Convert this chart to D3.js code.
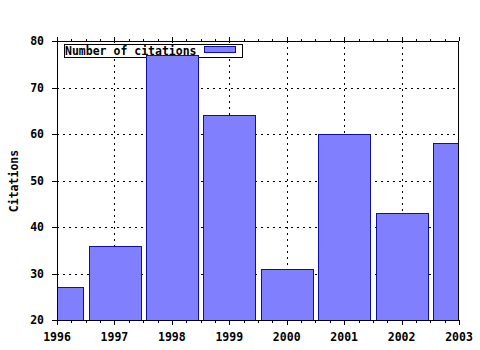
<!DOCTYPE html>
<html>
<head>
<meta charset="utf-8">
<script src="https://cdn.jsdelivr.net/npm/d3@7"></script>
<style>
html,body{margin:0;padding:0;background:#fff;}
svg text{font-family:"DejaVu Sans Mono",monospace;font-weight:bold;font-size:11.5px;fill:#000;}
</style>
</head>
<body>
<script>
const years = [1996, 1997, 1998, 1999, 2000, 2001, 2002, 2003];
const citations = [27, 36, 77, 64, 31, 60, 43, 58];
const yTicks = [20, 30, 40, 50, 60, 70, 80];
const xTicks = [1996, 1997, 1998, 1999, 2000, 2001, 2002, 2003];
const seriesName = "Number of citations";
const yTitle = "Citations";

const W = 480, H = 350;
const L = 57, R = 459, T = 41, B = 320;
const svg = d3.select("body").append("svg").attr("width", W).attr("height", H);

const x = d3.scaleLinear().domain([1996, 2003]).range([L, R]);
const y = d3.scaleLinear().domain([20, 80]).range([B, T]);
const minor = d3.range(1996, 2003.001, 0.25).filter(v => Math.abs(v - Math.round(v)) > 1e-6);

svg.append("defs").append("clipPath").attr("id", "clip")
  .append("rect").attr("x", L).attr("y", T).attr("width", R - L).attr("height", B - T);

// grid
const grid = svg.append("g").attr("stroke", "#000").attr("stroke-width", 1).attr("stroke-dasharray", "2,4");
yTicks.filter(v => v > 20 && v < 80).forEach(v => {
  grid.append("line").attr("x1", L).attr("x2", R).attr("y1", Math.round(y(v)) + 0.5).attr("y2", Math.round(y(v)) + 0.5);
});
xTicks.filter(v => v > 1996 && v < 2003).forEach(v => {
  grid.append("line").attr("y1", T).attr("y2", B).attr("x1", Math.round(x(v)) + 0.5).attr("x2", Math.round(x(v)) + 0.5);
});

// legend box background
const lg = {x: 64.5, y: 44.5, w: 178, h: 13};
svg.append("rect").attr("x", lg.x).attr("y", lg.y).attr("width", lg.w).attr("height", lg.h)
  .attr("fill", "#fff").attr("stroke", "#000");

// bars
const bw = (x(1997) - x(1996)) * 0.9;
svg.append("g").attr("clip-path", "url(#clip)")
  .selectAll("rect").data(years).join("rect")
  .attr("x", (d) => Math.round(x(d) - bw / 2) + 0.5)
  .attr("width", Math.round(bw))
  .attr("y", (d, i) => Math.round(y(citations[i])) + 0.5)
  .attr("height", (d, i) => B - Math.round(y(citations[i])))
  .attr("fill", "#8080ff").attr("stroke", "#1010a0").attr("stroke-width", 1);

// legend text & sample
svg.append("text").attr("x", 65).attr("y", 51).attr("dominant-baseline", "central").text(seriesName);
svg.append("rect").attr("x", 204.5).attr("y", 46.5).attr("width", 31).attr("height", 6)
  .attr("fill", "#8080ff").attr("stroke", "#1010a0");

// border
svg.append("rect").attr("x", L + 0.5).attr("y", T + 0.5).attr("width", R - L - 1).attr("height", B - T)
  .attr("fill", "none").attr("stroke", "#000");

// ticks
const tk = svg.append("g").attr("stroke", "#000");
yTicks.forEach(v => {
  const yy = Math.round(y(v)) + 0.5;
  tk.append("line").attr("x1", L - 5).attr("x2", L).attr("y1", yy).attr("y2", yy);
});
xTicks.forEach(v => {
  const xx = Math.round(x(v)) + 0.5;
  tk.append("line").attr("x1", xx).attr("x2", xx).attr("y1", B).attr("y2", B + 5);
  tk.append("line").attr("x1", xx).attr("x2", xx).attr("y1", T - 4).attr("y2", T);
});
minor.forEach(v => {
  const xx = Math.round(x(v)) + 0.5;
  tk.append("line").attr("x1", xx).attr("x2", xx).attr("y1", B).attr("y2", B + 3);
  tk.append("line").attr("x1", xx).attr("x2", xx).attr("y1", T - 2).attr("y2", T);
});

// tick labels
svg.append("g").selectAll("text").data(yTicks).join("text")
  .attr("x", 44).attr("y", d => y(d)).attr("text-anchor", "end").attr("dominant-baseline", "central")
  .text(d => d);
svg.append("g").selectAll("text").data(xTicks).join("text")
  .attr("x", d => x(d)).attr("y", 337).attr("text-anchor", "middle").attr("dominant-baseline", "central")
  .text(d => d);

// axis title
svg.append("text").attr("transform", `translate(14,181) rotate(-90)`)
  .attr("text-anchor", "middle").attr("dominant-baseline", "central").text(yTitle);
</script>
</body>
</html>
